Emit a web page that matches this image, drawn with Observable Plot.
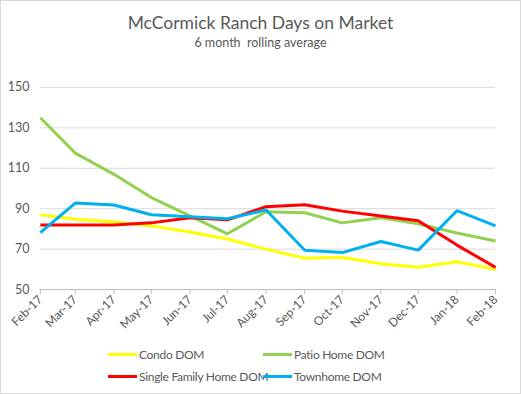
<!DOCTYPE html>
<html><head><meta charset="utf-8">
<script src="https://cdn.jsdelivr.net/npm/d3@7"></script>
<script src="https://cdn.jsdelivr.net/npm/@observablehq/plot@0.6"></script>
<style>
html,body{margin:0;padding:0;background:#fff;}
#frame{position:relative;width:519px;height:392px;border:1px solid #d9d9d9;font-family:Lato,"Open Sans",sans-serif;color:#595959;overflow:hidden;}
#title{position:absolute;top:11px;left:0;width:519px;text-align:center;font-size:17.5px;}
#subtitle{position:absolute;top:34px;left:0;width:519px;text-align:center;font-size:12.5px;}
#chart{position:absolute;top:54px;left:-1px;}
.leg{position:absolute;font-size:12px;letter-spacing:-0.3px;display:flex;align-items:center;white-space:nowrap;}
.sw{display:inline-block;width:29px;height:3px;margin-right:2px;}
</style></head>
<body>
<div id="frame">
<div id="title">McCormick Ranch Days on Market</div>
<div id="subtitle">6 month&nbsp; rolling average</div>
<div id="chart"></div>
</div>
<script>
const months = ["2017-02-01","2017-03-01","2017-04-01","2017-05-01","2017-06-01","2017-07-01","2017-08-01","2017-09-01","2017-10-01","2017-11-01","2017-12-01","2018-01-01","2018-02-01"];
const tickLabels = ["Feb-17","Mar-17","Apr-17","May-17","Jun-17","Jul-17","Aug-17","Sep-17","Oct-17","Nov-17","Dec-17","Jan-18","Feb-18"];
const seriesNames = ["Condo DOM","Patio Home DOM","Single Family Home DOM","Townhome DOM"];
const seriesColors = ["#ffff00","#92d050","#ff0000","#00b0f0"];
const condo = [87,84.8,83.5,81.5,78.5,75,70,65.5,66,62.8,61,63.8,60];
const patio = [135,117.5,107,95.5,86.5,77.6,88.5,88,83,85.5,82.5,78,74];
const singleFamily = [82,82,82,83,85.5,84.5,91,92,88.8,86.4,84,72,61];
const townhome = [78.2,92.8,91.8,87,86,85,89.4,69.5,68.3,73.8,69.5,89,81.5];
const yTicks = [50,70,90,110,130,150];

const allValues = [condo, patio, singleFamily, townhome];
const dates = months.map(d => new Date(d + "T00:00:00Z"));
const rows = [];
allValues.forEach((vals, s) => vals.forEach((v, i) => rows.push({date: dates[i], value: v, series: seriesNames[s]})));
const labelOf = d => tickLabels[dates.findIndex(x => +x === +d)];

const chart = Plot.plot({
  width: 522,
  height: 280,
  marginLeft: 40,
  marginRight: 25,
  marginTop: 32,
  marginBottom: 45,
  style: {fontFamily: "Lato, 'Open Sans', sans-serif", fontSize: "12px", color: "#595959", background: "transparent"},
  x: {type: "utc", domain: [dates[0], dates[dates.length - 1]]},
  y: {domain: [50, 150]},
  color: {domain: seriesNames, range: seriesColors},
  marks: [
    Plot.gridY(yTicks, {stroke: "#d9d9d9", strokeOpacity: 1}),
    Plot.axisY(yTicks, {tickSize: 0, tickPadding: 11, label: null, fontSize: 12.5, fill: "#595959"}),
    Plot.ruleY([50], {stroke: "#bfbfbf"}),
    Plot.axisX(dates, {tickFormat: labelOf, tickRotate: -45, tickSize: 5, stroke: "#bfbfbf", tickPadding: 3, label: null, fontSize: 12, fill: "#595959"}),
    Plot.line(rows, {x: "date", y: "value", z: "series", stroke: "series", strokeWidth: 3, strokeLinejoin: "miter", strokeLinecap: "butt"})
  ]
});
document.getElementById("chart").appendChild(chart);

const legendPos = [[107, 346], [262, 346], [107, 368], [262, 368]];
const frame = document.getElementById("frame");
seriesNames.forEach((name, i) => {
  const el = document.createElement("div");
  el.className = "leg";
  el.style.left = legendPos[i][0] + "px";
  el.style.top = legendPos[i][1] + "px";
  el.innerHTML = `<span class="sw" style="background:${seriesColors[i]}"></span>${name}`;
  frame.appendChild(el);
});
</script>
</body></html>
